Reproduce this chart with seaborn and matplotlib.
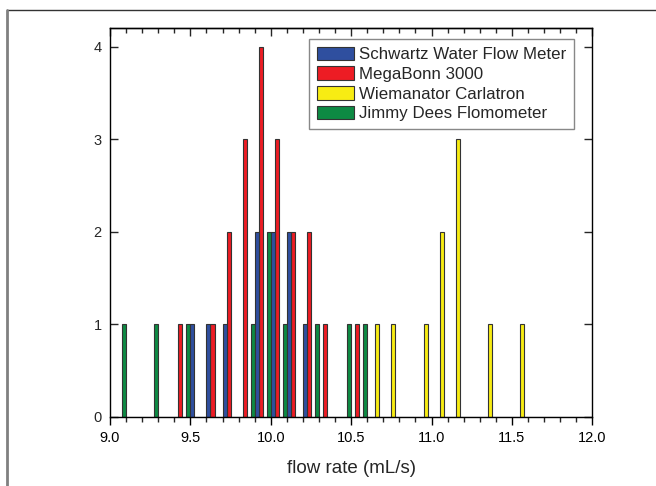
import matplotlib
matplotlib.use("Agg")
import matplotlib.pyplot as plt
import numpy as np
import pandas as pd
import seaborn as sns
from matplotlib.lines import Line2D
from matplotlib.patches import Patch
from matplotlib.ticker import FormatStrFormatter, MultipleLocator

METERS = [
    "Schwartz Water Flow Meter",
    "MegaBonn 3000",
    "Wiemanator Carlatron",
    "Jimmy Dees Flomometer",
]
COLORS = ["#2f4f9f", "#ed1c24", "#f7ec13", "#0d8a43"]

# left edge of each 0.1 mL/s bin and the count in it
schwartz_bins = [9.5, 9.6, 9.7, 9.9, 10.0, 10.1, 10.2]
schwartz_counts = [1, 1, 1, 2, 2, 2, 1]
megabonn_bins = [9.4, 9.6, 9.7, 9.8, 9.9, 10.0, 10.1, 10.2, 10.3, 10.5]
megabonn_counts = [1, 1, 2, 3, 4, 3, 2, 2, 1, 1]
wiemanator_bins = [10.6, 10.7, 10.9, 11.0, 11.1, 11.3, 11.5]
wiemanator_counts = [1, 1, 1, 2, 3, 1, 1]
jimmy_bins = [9.0, 9.2, 9.4, 9.8, 9.9, 10.0, 10.2, 10.4, 10.5]
jimmy_counts = [1, 1, 1, 1, 2, 1, 1, 1, 1]

# histplot wants a plain list here (an array trips its "auto" check)
BIN_EDGES = [round(9.0 + 0.1 * i, 1) for i in range(31)]


def build_frame():
    parts = []
    for name, bins, counts in zip(
        METERS,
        [schwartz_bins, megabonn_bins, wiemanator_bins, jimmy_bins],
        [schwartz_counts, megabonn_counts, wiemanator_counts, jimmy_counts],
    ):
        parts.append(
            pd.DataFrame(
                {"flow": np.array(bins) + 0.05, "count": counts, "meter": name}
            )
        )
    return pd.concat(parts, ignore_index=True)


if __name__ == "__main__":
    df = build_frame()

    sns.set_style("ticks")
    plt.rcParams["font.family"] = ["Liberation Sans", "DejaVu Sans"]

    fig = plt.figure(figsize=(6.56, 4.86), dpi=100)
    ax = fig.add_axes([0.1677, 0.1426, 0.7352, 0.7992])

    sns.histplot(
        data=df,
        x="flow",
        weights="count",
        hue="meter",
        hue_order=METERS,
        palette=COLORS,
        bins=BIN_EDGES,
        multiple="dodge",
        shrink=1,
        alpha=1,
        edgecolor="#333333",
        linewidth=0.8,
        legend=False,
        ax=ax,
    )

    ax.set_xlim(9.0, 12.0)
    ax.set_ylim(0, 4.2)
    ax.set_yticks([0, 1, 2, 3, 4])
    ax.xaxis.set_major_locator(MultipleLocator(0.5))
    ax.xaxis.set_minor_locator(MultipleLocator(0.1))
    ax.xaxis.set_major_formatter(FormatStrFormatter("%.1f"))
    ax.set_xlabel("flow rate (mL/s)", fontsize=13.5, labelpad=11)
    ax.set_ylabel("")

    for s in ax.spines.values():
        s.set_visible(True)
        s.set_linewidth(1.0)
        s.set_color("black")

    ax.tick_params(axis="x", which="major", direction="out", length=6,
                   width=1.0, labelsize=10.5, pad=4, colors="black")
    ax.tick_params(axis="x", which="minor", direction="out", length=3.5,
                   width=1.0)
    ax.tick_params(axis="y", which="major", direction="in", length=6,
                   width=1.0, labelsize=10.5, pad=6, left=True, right=True)

    top = ax.secondary_xaxis("top")
    top.xaxis.set_major_locator(MultipleLocator(0.5))
    top.xaxis.set_minor_locator(MultipleLocator(0.1))
    top.tick_params(axis="x", which="major", direction="in", length=6,
                    width=1.0, labeltop=False)
    top.tick_params(axis="x", which="minor", direction="in", length=3.5,
                    width=1.0)
    top.spines["top"].set_linewidth(1.0)

    handles = [Patch(facecolor=c, edgecolor="#333333", linewidth=0.8)
               for c in COLORS]
    leg = ax.legend(
        handles,
        METERS,
        loc="upper right",
        bbox_to_anchor=(0.962, 0.9725),
        borderaxespad=0,
        fontsize=12.2,
        handlelength=2.2,
        handleheight=0.86,
        handletextpad=0.3,
        labelspacing=0.24,
        borderpad=0.45,
        fancybox=False,
        framealpha=1,
        edgecolor="#888888",
    )
    leg.get_frame().set_linewidth(1.0)

    # page frame lines
    fig.add_artist(Line2D([0.0114, 1.0], [0.9794, 0.9794],
                          color="#333333", linewidth=1.0))
    fig.add_artist(Line2D([0.0114, 0.0114], [0.0, 0.9794],
                          color="#808080", linewidth=2.0))

    fig.savefig("out.png", dpi=100)
